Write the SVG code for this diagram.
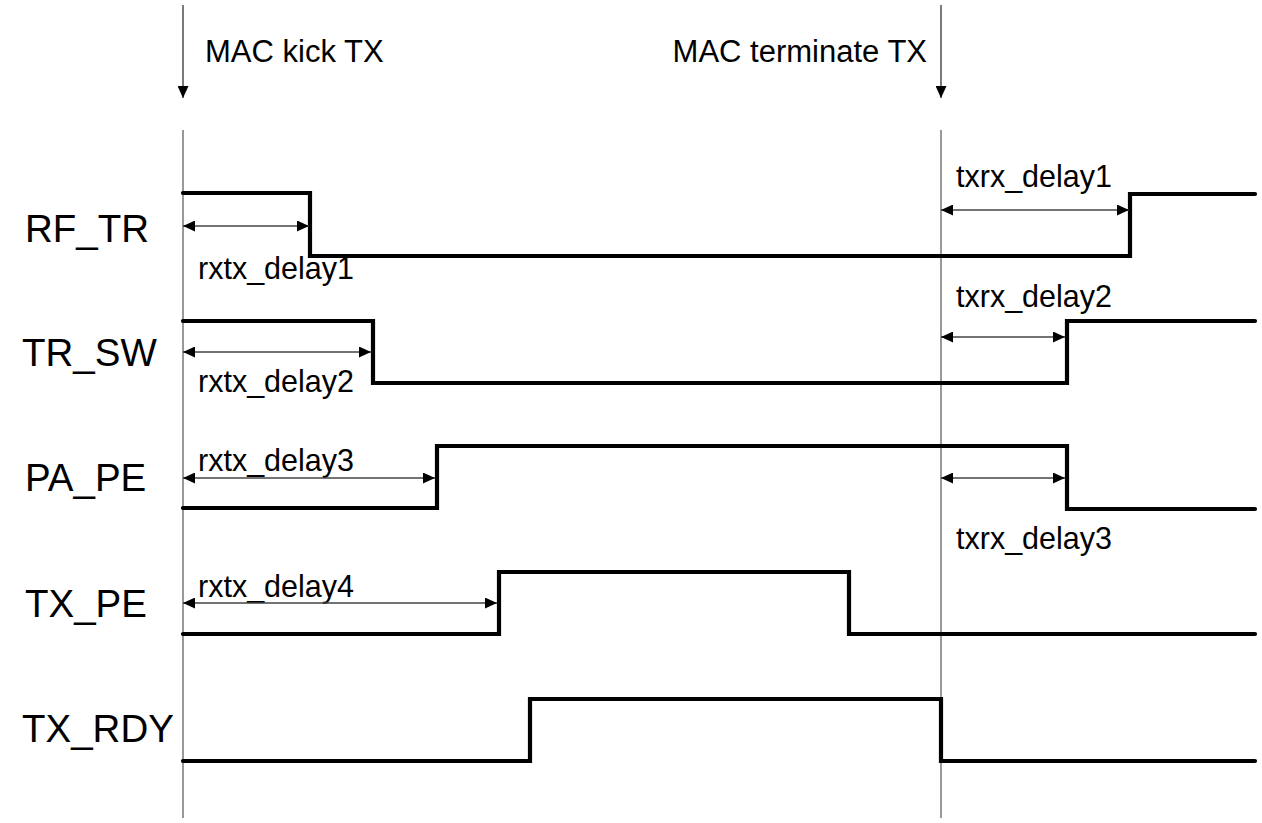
<svg xmlns="http://www.w3.org/2000/svg" width="1262" height="823" viewBox="0 0 1262 823">
<style>
text{font-family:"Liberation Sans",Arial,sans-serif;fill:#000}
.lbl{font-size:38.5px}
.dly{font-size:30.5px}
.mac{font-size:31px}
.sig{fill:none;stroke:#000;stroke-width:4.2;stroke-linejoin:miter;stroke-linecap:round}
.guide{stroke:#555;stroke-width:1.2;fill:none}
.dim{stroke:#444;stroke-width:1.3;fill:none;marker-start:url(#ah);marker-end:url(#ah)}
.evt{stroke:#333;stroke-width:1.3;fill:none;marker-end:url(#ahv)}
</style>
<defs>
<marker id="ah" markerUnits="userSpaceOnUse" markerWidth="12" markerHeight="11" refX="12" refY="5.5" orient="auto-start-reverse" viewBox="0 0 12 11">
<path d="M0,0 L12,5.5 L0,11 z" fill="#000"/>
</marker>
<marker id="ahv" markerUnits="userSpaceOnUse" markerWidth="12" markerHeight="11" refX="12" refY="5.5" orient="auto" viewBox="0 0 12 11">
<path d="M0,0 L12,5.5 L0,11 z" fill="#000"/>
</marker>
</defs>
<rect width="1262" height="823" fill="#fff"/>
<g id="guides">
<line class="guide" x1="183" y1="130" x2="183" y2="818"/>
<line class="guide" x1="941" y1="130" x2="941" y2="818"/>
</g>
<g id="events">
<text class="mac" x="205" y="62">MAC kick TX</text>
<text class="mac" x="927" y="62" text-anchor="end">MAC terminate TX</text>
</g>
<g id="RF_TR">
<text class="lbl" x="25" y="242">RF_TR</text>
<polyline class="sig" points="183,193 310,193 310,256 1130,256 1130,194 1255,194"/>
<text class="dly" x="198" y="279">rxtx_delay1</text>
<text class="dly" x="956" y="187">txrx_delay1</text>
</g>
<g id="TR_SW">
<text class="lbl" x="22" y="366">TR_SW</text>
<polyline class="sig" points="183,321 373,321 373,383 1067,383 1067,321 1255,321"/>
<text class="dly" x="198" y="392">rxtx_delay2</text>
<text class="dly" x="956" y="307">txrx_delay2</text>
</g>
<g id="PA_PE">
<text class="lbl" x="25" y="491">PA_PE</text>
<polyline class="sig" points="183,508 437,508 437,446 1067,446 1067,509 1255,509"/>
<text class="dly" x="198" y="471">rxtx_delay3</text>
<text class="dly" x="956" y="549">txrx_delay3</text>
</g>
<g id="TX_PE">
<text class="lbl" x="25" y="617">TX_PE</text>
<polyline class="sig" points="183,634 499,634 499,572 849,572 849,634 1255,634"/>
<text class="dly" x="198" y="597">rxtx_delay4</text>
</g>
<g id="TX_RDY">
<text class="lbl" x="22" y="742">TX_RDY</text>
<polyline class="sig" points="183,761 530,761 530,699 941,699 941,761 1255,761"/>
</g>
<g id="connectors">
<line class="evt" x1="183" y1="5" x2="183" y2="98"/>
<line class="evt" x1="941" y1="5" x2="941" y2="98"/>
<line class="dim" x1="183" y1="226" x2="309" y2="226"/>
<line class="dim" x1="941" y1="210" x2="1129" y2="210"/>
<line class="dim" x1="183" y1="352" x2="371" y2="352"/>
<line class="dim" x1="941" y1="337" x2="1065" y2="337"/>
<line class="dim" x1="183" y1="478" x2="435" y2="478"/>
<line class="dim" x1="941" y1="478" x2="1065" y2="478"/>
<line class="dim" x1="183" y1="603" x2="497" y2="603"/>
</g>
</svg>
